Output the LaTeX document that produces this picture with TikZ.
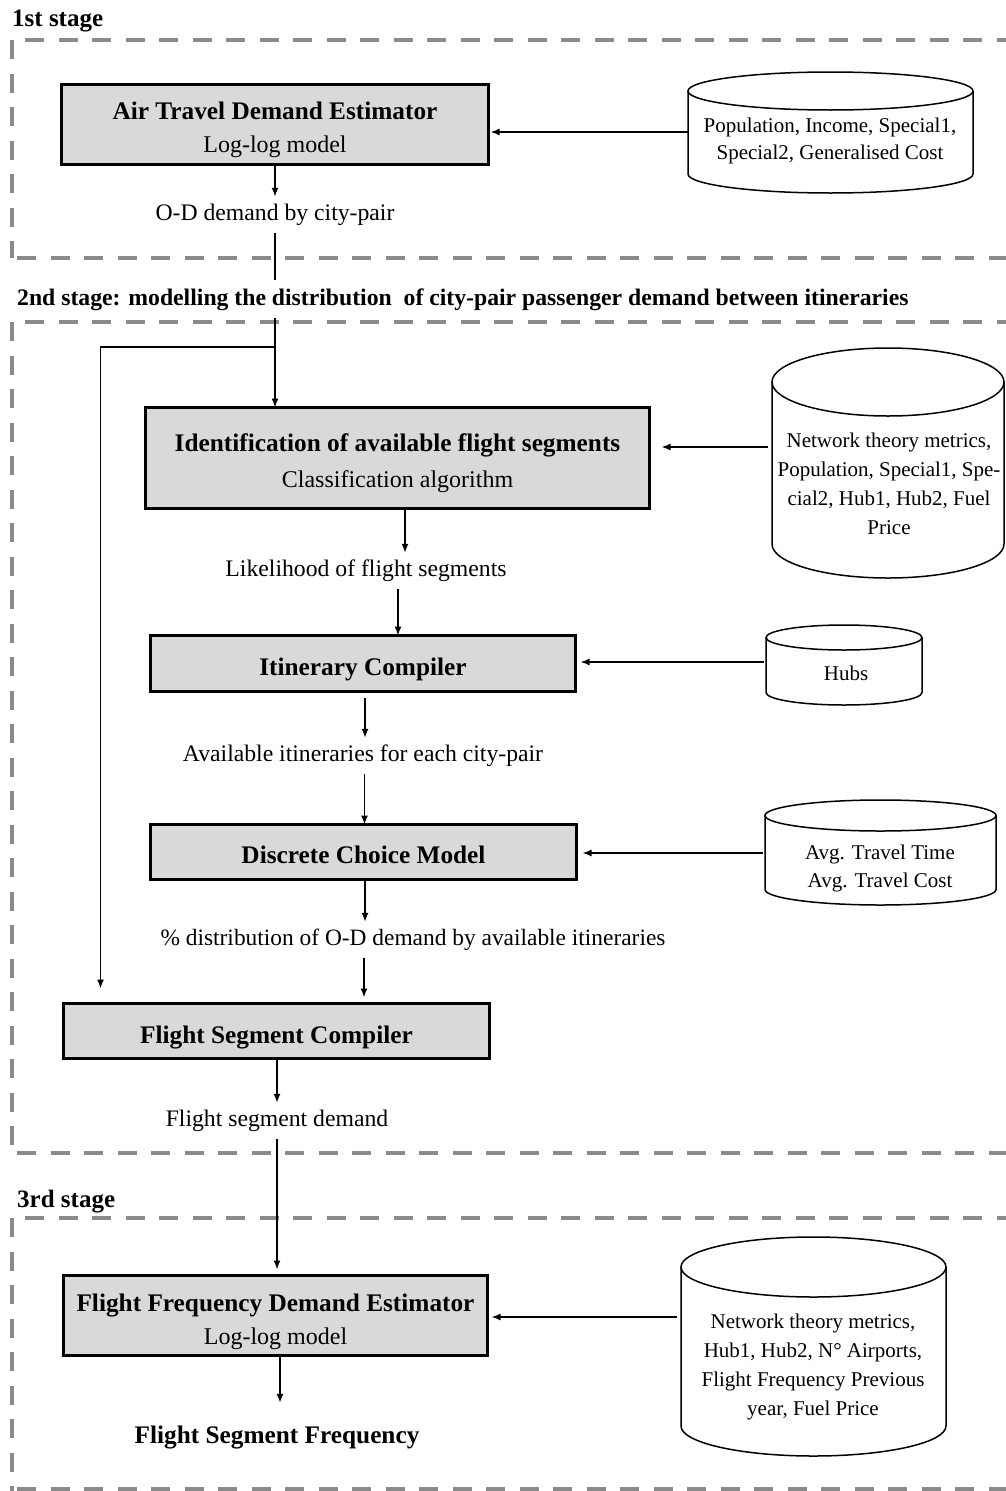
\documentclass[tikz,border=0pt]{standalone}
\usepackage{fontspec}
\setmainfont{Liberation Serif}
\usetikzlibrary{arrows.meta,calc}
\definecolor{boxfill}{HTML}{D9D9D9}
\definecolor{stagegray}{HTML}{8A8A8A}
\tikzset{
  stagedash/.style={draw=stagegray, line width=4pt, dash pattern=on 19pt off 14.5pt},
  procbox/.style={draw=black, line width=3pt, fill=boxfill, align=center, inner sep=0pt, outer sep=0pt,
    font=\fontsize{24}{33}\selectfont},
  lbl/.style={align=center, inner xsep=2pt, inner ysep=7pt, text height=16.5pt, text depth=5.5pt,
    font=\fontsize{23.7}{28}\selectfont},
  stagelbl/.style={anchor=base west, inner xsep=0pt, inner ysep=0pt, font=\fontsize{24}{28}\selectfont\bfseries},
  cylbody/.style={shape=rectangle, inner sep=0pt, outer sep=0pt},
  cyltext/.style={align=center, inner sep=0pt},
  cylline/.style={line width=1.5pt, draw=black},
  arr/.style={-{Latex[length=9pt,width=7pt]}, line width=1.5pt},
  conn/.style={line width=1.5pt},
}
% bold heading inside a box
\newcommand\bhead[1]{{\fontsize{25.3}{33}\selectfont\bfseries #1}}
% box content lowered a little: #1 shift, #2 row spacing, #3 rows
\newcommand\boxtxt[3]{\raisebox{#1}[\height][\depth]{\fontsize{24}{#2}\selectfont\begin{tabular}{@{}c@{}}#3\end{tabular}}}
% #1 node name, #2 ellipse half height (pt), #3 half width (pt)
\newcommand\drawcyl[3]{%
  \draw[cylline] ([yshift=-#2pt]#1.north) ellipse [x radius=#3pt, y radius=#2pt];
  \draw[cylline] ([yshift=-#2pt]#1.north west) -- ([yshift=#2pt]#1.south west)
    arc [start angle=180, end angle=360, x radius=#3pt, y radius=#2pt]
    -- ([yshift=-#2pt]#1.north east);
}
\begin{document}
\begin{tikzpicture}[x=1pt,y=1pt]
\useasboundingbox[fill=white] (0,0) rectangle (1006,-1491);

% ---------- stage frames ----------
\draw[stagedash] (25,-40) -- (1006,-40);
\draw[stagedash] (12,-40) -- (12,-258);
\draw[stagedash] (17,-258) -- (1006,-258);

\draw[stagedash] (25,-322) -- (1006,-322);
\draw[stagedash] (12,-322) -- (12,-1153);
\draw[stagedash] (17,-1153) -- (1006,-1153);

\draw[stagedash] (25,-1218) -- (1006,-1218);
\draw[stagedash] (12,-1218) -- (12,-1491);
\draw[stagedash] (17,-1489) -- (1006,-1489);

\node[stagelbl, font=\fontsize{25}{28}\selectfont\bfseries] (s1) at (12,-27) {1st stage};
\node[stagelbl, font=\fontsize{25}{28}\selectfont\bfseries] (s3) at (17,-1207) {3rd stage};

% ---------- process boxes ----------
\node[procbox, minimum width=427pt, minimum height=80pt] (b1) at (275,-124.5)
  {\boxtxt{-4.5pt}{33}{\bhead{Air Travel Demand Estimator}\\Log-log model}};
\node[procbox, minimum width=504pt, minimum height=101pt] (b2) at (397.5,-458)
  {\boxtxt{-4pt}{36}{\bhead{Identification of available flight segments}\\Classification algorithm}};
\node[procbox, minimum width=425pt, minimum height=56pt] (b3) at (363,-663.5)
  {\boxtxt{-5pt}{33}{\bhead{Itinerary Compiler}}};
\node[procbox, minimum width=426pt, minimum height=55pt] (b4) at (363.5,-852)
  {\boxtxt{-5pt}{33}{\bhead{Discrete Choice Model}}};
\node[procbox, minimum width=426pt, minimum height=55pt] (b5) at (276.5,-1031)
  {\boxtxt{-6pt}{33}{\bhead{Flight Segment Compiler}}};
\node[procbox, minimum width=424pt, minimum height=80pt] (b6) at (275.5,-1315.5)
  {\boxtxt{-5.5pt}{33}{\bhead{Flight Frequency Demand Estimator}\\Log-log model}};

% ---------- flow labels ----------
\node[lbl] (od) at (275,-215) {O-D demand by city-pair};
\node[lbl] (lik) at (366,-571) {Likelihood of flight segments};
\node[lbl] (avail) at (363,-756) {Available itineraries for each city-pair};
\node[lbl, font=\fontsize{23.4}{28}\selectfont] (dist) at (413,-940) {\% distribution of O-D demand by available itineraries};
\node[lbl] (fsd) at (277,-1121) {Flight segment demand};
\node[lbl, font=\fontsize{25.3}{28}\selectfont\bfseries] (fsf) at (277,-1438) {Flight Segment Frequency};

% ---------- data stores ----------
\node[cylbody, minimum width=285pt, minimum height=121pt] (c1) at (830.5,-132.5) {};
\drawcyl{c1}{19}{142.5}
\node[cyltext, font=\fontsize{21}{27}\selectfont] (c1t) at (830,-141)
  {Population, Income, Special1,\\Special2, Generalised Cost};

\node[cylbody, minimum width=232pt, minimum height=230pt] (c2) at (888,-463) {};
\drawcyl{c2}{34}{116}
\node[cyltext, font=\fontsize{21}{29}\selectfont] (c2t) at (889,-484)
  {Network theory metrics,\\Population, Special1, Spe-\\cial2, Hub1, Hub2, Fuel\\Price};

\node[cylbody, minimum width=156pt, minimum height=80pt] (c3) at (844,-665) {};
\drawcyl{c3}{12.5}{78}
\node[cyltext, font=\fontsize{21}{27}\selectfont] (c3t) at (846,-673) {Hubs};

\node[cylbody, minimum width=231pt, minimum height=105pt] (c4) at (880.5,-852.5) {};
\drawcyl{c4}{15.5}{115.5}
\node[cyltext, font=\fontsize{21}{28}\selectfont] (c4t) at (880,-868)
  {Avg. Travel Time\\Avg. Travel Cost};

\node[cylbody, minimum width=265pt, minimum height=219pt] (c6) at (813.5,-1346.5) {};
\drawcyl{c6}{30}{132.5}
\node[cyltext, font=\fontsize{21}{28.7}\selectfont] (c6t) at (813,-1367)
  {Network theory metrics,\\Hub1, Hub2, N° Airports,\\Flight Frequency Previous\\year, Fuel Price};

% ---------- connectors ----------
% stage 1
\draw[arr] (c1.west |- 0,-132) -- ([xshift=2pt]b1.east |- 0,-132);
\draw[arr] (b1.south) -- (b1.south |- od.north);
\draw[arr] (od.south) -- (od.south |- b2.north);
\coordinate (split) at (od.south |- 0,-347);
\draw[arr] (split) -| ([xshift=-176pt,yshift=15pt]b5.north);

% stage 2 label drawn over the vertical connector
\node[stagelbl, fill=white, inner ysep=8pt, font=\fontsize{23.7}{28}\selectfont\bfseries] (s2) at (17,-305)
  {2nd stage: modelling the distribution\ \ of city-pair passenger demand between itineraries};

\draw[arr] ([xshift=7.5pt]b2.south) -- ([xshift=7.5pt]b2.south |- lik.north);
\draw[arr] ([xshift=35pt]b3.north |- lik.south) -- ([xshift=35pt]b3.north);
\draw[arr] ([xshift=-4pt]c2.west |- 0,-447) -- ([xshift=12pt]b2.east |- 0,-447);

\draw[arr] ([xshift=2pt,yshift=-6pt]b3.south) -- ([xshift=2pt]b3.south |- avail.north);
\draw[arr] ([xshift=-2pt]c3.west |- 0,-662) -- ([xshift=5pt]b3.east |- 0,-662);
\draw[arr] ([xshift=1pt]b4.north |- avail.south) -- ([xshift=1pt]b4.north);

\draw[arr] ([xshift=1.5pt]b4.south) -- ([xshift=1.5pt]b4.south |- dist.north);
\draw[arr] ([xshift=-2pt]c4.west |- 0,-853) -- ([xshift=6pt]b4.east |- 0,-853);
\draw[arr] ([xshift=87.5pt]b5.north |- dist.south) -- ([xshift=87.5pt,yshift=6pt]b5.north);

\draw[arr] ([xshift=0.5pt]b5.south) -- ([xshift=0.5pt]b5.south |- fsd.north);
\draw[arr] (fsd.south) -- ([yshift=6pt]b6.north -| fsd.south);

% stage 3
\draw[arr] ([xshift=-4pt]c6.west |- 0,-1317) -- ([xshift=4pt]b6.east |- 0,-1317);
\draw[arr] ([xshift=4.5pt]b6.south) -- ([xshift=4.5pt,yshift=17pt]b6.south |- fsf.north);
\end{tikzpicture}
\end{document}
